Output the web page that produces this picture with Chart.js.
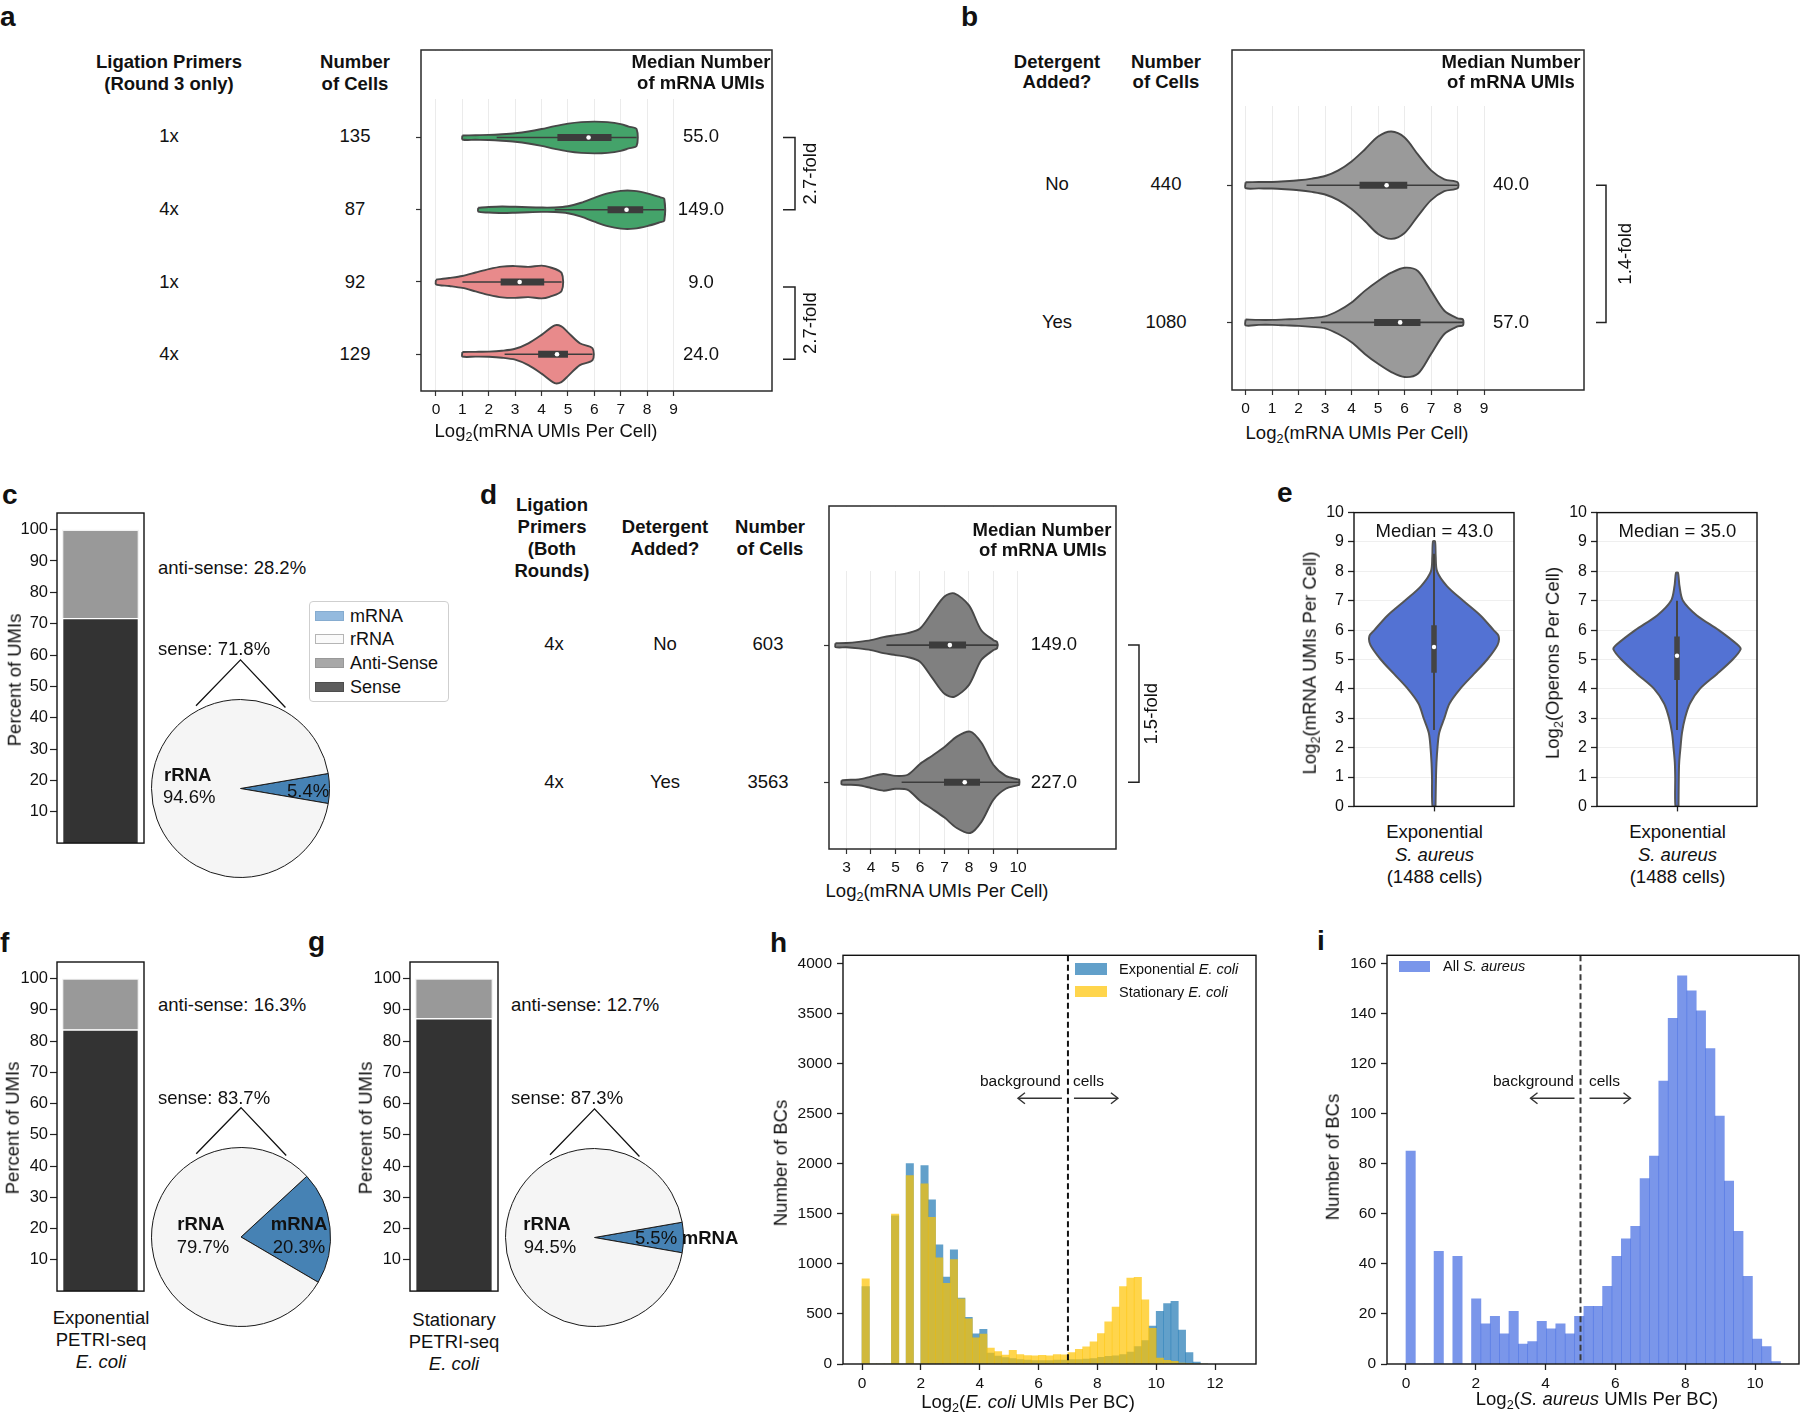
<!DOCTYPE html>
<html><head><meta charset="utf-8">
<script src="https://cdn.jsdelivr.net/npm/chart.js@4.4.1/dist/chart.umd.min.js"></script>
<style>
html,body{margin:0;padding:0;background:#fff;}
#page{position:relative;width:1800px;height:1419px;overflow:hidden;background:#fff;font-family:'Liberation Sans',Arial,Helvetica,sans-serif;color:#111;}
.t{position:absolute;white-space:nowrap;line-height:1;}
.c{position:absolute;}
.t sub{font-size:0.68em;vertical-align:-0.28em;line-height:0;}
.sw{position:absolute;box-sizing:border-box;}
</style></head><body><div id="page"></div>
<script>
// ================= DATA =================
// Panel a : ligation primers (round 3 only)
const aPrimers = ['1x', '4x', '1x', '4x'];
const aCells = [135, 87, 92, 129];
const aMedianUMIs = [55.0, 149.0, 9.0, 24.0];
const aTicks = [0, 1, 2, 3, 4, 5, 6, 7, 8, 9];
const aViolinX = [
  [1.0, 1.5, 2.0, 2.5, 3.0, 3.5, 4.0, 4.5, 5.0, 5.5, 6.0, 6.5, 7.0, 7.3, 7.6],
  [1.6, 2.0, 2.5, 3.0, 3.5, 4.0, 4.5, 5.0, 5.5, 6.0, 6.5, 7.0, 7.5, 8.0, 8.5, 8.65],
  [0, 0.5, 1, 1.5, 2, 2.5, 3, 3.5, 4, 4.3, 4.76],
  [1.0, 1.5, 2.0, 2.5, 3.0, 3.5, 4.0, 4.5, 4.75, 5.0, 5.45, 5.93]
];
const aViolinW = [
  [2, 2.3, 2.6, 3.3, 4.3, 6, 8.5, 11.5, 14, 15.5, 16, 15.5, 13.5, 11, 8.5],
  [2, 2.8, 3.3, 3, 2.5, 2.2, 2.3, 3.5, 7, 12, 16.5, 19, 19, 16.5, 12.5, 11],
  [2.3, 4, 6, 9.5, 13, 15.5, 16, 15.2, 16.5, 15, 9],
  [2.3, 2.4, 2.6, 3.5, 5.5, 11, 19.5, 29, 28, 22, 11, 6]
];
const aQ1 = [4.6, 6.5, 2.45, 3.87];
const aQ3 = [6.65, 7.85, 4.1, 5.0];
const aWhiskLo = [2.3, 4.5, 1.0, 2.6];
const aWhiskHi = [7.6, 8.65, 4.76, 5.93];
const aFoldPairs = [[0, 1], [2, 3]];

// Panel b : detergent
const bDetergent = ['No', 'Yes'];
const bCells = [440, 1080];
const bMedianUMIs = [40.0, 57.0];
const bTicks = [0, 1, 2, 3, 4, 5, 6, 7, 8, 9];
const bViolinX = [
  [0, 0.5, 1, 1.5, 2, 2.5, 3, 3.5, 4, 4.5, 5, 5.5, 6, 6.5, 7, 7.5, 8.0],
  [0, 0.5, 1, 1.5, 2, 2.5, 3, 3.5, 4, 4.5, 5, 5.5, 6, 6.5, 7, 7.5, 8, 8.2]
];
const bViolinW = [
  [3, 3.2, 3.3, 4, 5, 6.7, 9.3, 15, 24, 36, 49, 54, 48, 31, 15, 6, 3],
  [3, 2.5, 2.5, 3, 3.5, 4.5, 6, 11.7, 20, 31.7, 41.7, 50, 55, 51.7, 31.7, 11.7, 4, 3]
];
const bQ1 = [4.3, 4.85];
const bQ3 = [6.1, 6.6];
const bWhiskLo = [2.3, 2.84];
const bWhiskHi = [8.0, 8.2];

// Panel d : both rounds
const dPrimers = ['4x', '4x'];
const dDetergent = ['No', 'Yes'];
const dCells = [603, 3563];
const dMedianUMIs = [149.0, 227.0];
const dTicks = [3, 4, 5, 6, 7, 8, 9, 10];
const dViolinX = [
  [2.55, 3, 3.5, 4, 4.5, 5, 5.5, 6, 6.5, 7, 7.4, 8, 8.5, 9, 9.15],
  [2.8, 3, 3.5, 4, 4.5, 5, 5.5, 6, 6.5, 7, 7.5, 8.05, 8.5, 9, 9.5, 10, 10.05]
];
const dViolinW = [
  [2, 2.2, 3.3, 5, 8, 10, 12, 16.7, 33, 49, 52, 40, 15, 5, 3],
  [2, 2.4, 2.9, 5.7, 8.4, 6.5, 7.6, 18.5, 26.8, 35.5, 46, 51, 40, 17.4, 6.5, 2.9, 2.5]
];
const dQ1 = [6.37, 6.98];
const dQ3 = [7.88, 8.45];
const dWhiskLo = [4.63, 5.25];
const dWhiskHi = [9.15, 10.05];

// Panels c, f, g : sense / anti-sense bars and mRNA / rRNA pies
const barSense = [71.8, 83.7, 87.3];
const barAnti = [28.2, 16.3, 12.7];
const pieMRNA = [5.4, 20.3, 5.5];
const pieRRNA = [94.6, 79.7, 94.5];
const pctTicks = [10, 20, 30, 40, 50, 60, 70, 80, 90, 100];
const legendC = ['mRNA', 'rRNA', 'Anti-Sense', 'Sense'];

// Panel e : S. aureus violins
const eMedians = [43.0, 35.0];
const eCells = 1488;
const eTicks = [0, 1, 2, 3, 4, 5, 6, 7, 8, 9, 10];
const eViolinY = [
  [0, 1, 1.5, 2, 2.5, 3, 3.5, 4, 4.5, 5, 5.5, 5.8, 6, 6.5, 7, 7.5, 8, 8.5, 9.02],
  [0, 1, 1.5, 2, 2.5, 3, 3.5, 4, 4.5, 5, 5.35, 5.5, 6, 6.5, 7, 7.5, 7.95]
];
const eViolinW = [
  [1.5, 2, 2.5, 3.5, 5.2, 10.4, 15.6, 26.3, 40, 53.6, 64, 65, 60, 46.7, 29.4, 13, 3.1, 1.7, 1],
  [1.5, 1.8, 2.2, 3.5, 5, 8, 13, 23, 40, 56, 64, 61, 42, 20, 6, 2.5, 1]
];
const eQ1 = [4.55, 4.30];
const eQ3 = [6.17, 5.78];
const eWhiskLo = [2.6, 2.6];
const eWhiskHi = [8.6, 7.0];

// Panel h : E. coli histogram (bin width 0.25)
const hBinCenters = [0.125, 0.375, 0.625, 0.875, 1.125, 1.375, 1.625, 1.875, 2.125, 2.375, 2.625, 2.875,
  3.125, 3.375, 3.625, 3.875, 4.125, 4.375, 4.625, 4.875, 5.125, 5.375, 5.625, 5.875, 6.125, 6.375,
  6.625, 6.875, 7.125, 7.375, 7.625, 7.875, 8.125, 8.375, 8.625, 8.875, 9.125, 9.375, 9.625, 9.875,
  10.125, 10.375, 10.625, 10.875, 11.125, 11.375, 11.625];
const hExponential = [773, 0, 0, 0, 1480, 0, 2000, 0, 1980, 1638, 1190, 867, 1140, 659, 466, 302, 346,
  108, 80, 65, 55, 45, 40, 35, 35, 35, 38, 40, 43, 45, 50, 55, 66, 76, 82, 95, 118, 175, 235, 378, 526,
  602, 625, 339, 115, 20, 0];
const hStationary = [849, 0, 0, 0, 1497, 0, 1880, 0, 1798, 1463, 1061, 805, 1042, 650, 450, 262, 298,
  158, 123, 90, 137, 94, 85, 82, 87, 81, 93, 92, 113, 146, 172, 221, 304, 421, 569, 773, 858, 865, 641,
  355, 60, 36, 26, 10, 3, 0, 0];
const hXTicks = [0, 2, 4, 6, 8, 10, 12];
const hYTicks = [0, 500, 1000, 1500, 2000, 2500, 3000, 3500, 4000];
const hCutoff = 7;

// Panel i : S. aureus histogram (40 bins)
const iBinCenters = [0.1341, 0.4024, 0.6706, 0.9389, 1.2071, 1.4754, 1.7436, 2.0119, 2.2801, 2.5484,
  2.8166, 3.0849, 3.3531, 3.6214, 3.8896, 4.1579, 4.4261, 4.6944, 4.9626, 5.2309, 5.4991, 5.7674,
  6.0356, 6.3039, 6.5721, 6.8404, 7.1086, 7.3769, 7.6451, 7.9134, 8.1816, 8.4499, 8.7181, 8.9864,
  9.2546, 9.5229, 9.7911, 10.0594, 10.3276, 10.5959];
const iCounts = [85, 0, 0, 45, 0, 43, 0, 26, 16, 19, 12, 21, 8, 9, 17, 14, 16, 12, 19, 23, 23, 31, 43,
  50, 55, 74, 83, 113, 138, 155, 149, 141, 126, 99, 73, 53, 35, 10, 7, 1];
const iXTicks = [0, 2, 4, 6, 8, 10];
const iYTicks = [0, 20, 40, 60, 80, 100, 120, 140, 160];
const iCutoff = 5;

// ================= HELPERS =================
const page = document.getElementById('page');
const FONT = "'Liberation Sans', Arial, Helvetica, sans-serif";
Chart.defaults.font.family = FONT;
Chart.defaults.color = '#111';

function T(x, y, html, o) {
  o = o || {};
  const s = o.s || 18.5;
  const d = document.createElement('div');
  d.className = 't';
  d.style.fontSize = s + 'px';
  if (o.b) d.style.fontWeight = 'bold';
  if (o.i) d.style.fontStyle = 'italic';
  d.innerHTML = html;
  d.style.left = x + 'px';
  if (o.rot) {
    d.style.top = y + 'px';
    d.style.transform = 'translate(-50%,-50%) rotate(-90deg)';
  } else {
    d.style.top = (y - 0.49 * s) + 'px';
    const tx = o.a === 'l' ? '0' : (o.a === 'r' ? '-100%' : '-50%');
    d.style.transform = 'translateX(' + tx + ')';
  }
  page.appendChild(d);
  return d;
}
function swatch(x, y, w, h, fill, border) {
  const d = document.createElement('div');
  d.className = 'sw';
  d.style.left = x + 'px'; d.style.top = y + 'px';
  d.style.width = w + 'px'; d.style.height = h + 'px';
  d.style.background = fill;
  if (border) d.style.border = '1px solid ' + border;
  page.appendChild(d);
}
function canvasBox(left, top, W, H) {
  const d = document.createElement('div');
  d.className = 'c';
  d.style.left = left + 'px'; d.style.top = top + 'px';
  d.style.width = W + 'px'; d.style.height = H + 'px';
  const cv = document.createElement('canvas');
  cv.width = W; cv.height = H;
  cv.style.width = W + 'px'; cv.style.height = H + 'px';
  d.appendChild(cv);
  page.appendChild(d);
  return cv;
}
// box = [x0,y0,x1,y1] plot area in page px ; pad = [left,right,top,bottom]
function mkChart(box, pad, cfg) {
  const W = box[2] - box[0] + pad[0] + pad[1];
  const H = box[3] - box[1] + pad[2] + pad[3];
  const cv = canvasBox(box[0] - pad[0], box[1] - pad[2], W, H);
  const o = cfg.options = cfg.options || {};
  o.responsive = false; o.animation = false; o.events = []; o.devicePixelRatio = 1;
  o.layout = { padding: { left: 0, right: pad[1], top: pad[2], bottom: 0 } };
  o.plugins = Object.assign({ legend: { display: false }, tooltip: { enabled: false } }, o.plugins || {});
  o.scales.x.afterFit = s => { s.height = pad[3]; };
  o.scales.y.afterFit = s => { s.width = pad[0]; };
  return new Chart(cv, cfg);
}
const tickList = arr => (s => { s.ticks = arr.map(v => ({ value: v })); });

const framePlugin = (color, lw) => ({ id: 'frame', afterDraw(ch) {
  const a = ch.chartArea, c = ch.ctx;
  c.save(); c.strokeStyle = color; c.lineWidth = lw;
  c.strokeRect(a.left, a.top, a.right - a.left, a.bottom - a.top); c.restore();
} });
const maskPlugin = h => ({ id: 'mask', beforeDatasetsDraw(ch) {
  const a = ch.chartArea, c = ch.ctx;
  c.save(); c.fillStyle = '#fff'; c.fillRect(a.left + 1, a.top + 1, a.right - a.left - 2, h); c.restore();
} });
// pairs: [rowA,rowB,pixelShift,label]
const bracketPlugin = (pairs, dxLine, arm, dxText) => ({ id: 'bracket', afterDraw(ch) {
  const ys = ch.scales.y, a = ch.chartArea, c = ch.ctx;
  c.save(); c.strokeStyle = '#222'; c.lineWidth = 1.5;
  pairs.forEach(p => {
    const y1 = ys.getPixelForValue(p[0]) + p[2], y2 = ys.getPixelForValue(p[1]) + p[2];
    const x = a.right + dxLine;
    c.beginPath(); c.moveTo(x - arm, y1); c.lineTo(x, y1); c.lineTo(x, y2); c.lineTo(x - arm, y2); c.stroke();
    c.save(); c.translate(x + dxText, (y1 + y2) / 2); c.rotate(-Math.PI / 2);
    c.fillStyle = '#111'; c.font = '18.5px ' + FONT; c.textAlign = 'center'; c.textBaseline = 'middle';
    c.fillText(p[3], 0, 0); c.restore();
  });
  c.restore();
} });
function arrow(c, x1, y, x2) {
  c.beginPath(); c.moveTo(x1, y); c.lineTo(x2, y); c.stroke();
  const d = Math.sign(x2 - x1);
  c.beginPath(); c.moveTo(x2 - d * 7, y - 5.5); c.lineTo(x2, y); c.lineTo(x2 - d * 7, y + 5.5); c.stroke();
}
const cutoffPlugin = (xv, color, arrowDy, g1, g2) => ({ id: 'cutoff', afterDatasetsDraw(ch) {
  const xs = ch.scales.x, a = ch.chartArea, c = ch.ctx;
  const px = xs.getPixelForValue(xv);
  c.save(); c.strokeStyle = color; c.lineWidth = 2; c.setLineDash([6, 3.5]);
  c.beginPath(); c.moveTo(px, a.top); c.lineTo(px, a.bottom); c.stroke();
  c.setLineDash([]); c.strokeStyle = '#333'; c.lineWidth = 1.4;
  const y = a.top + arrowDy;
  arrow(c, px - g1, y, px - 50);
  arrow(c, px + g2, y, px + 50);
  c.restore();
} });
const vLinesPlugin = { id: 'vlines', afterDraw(ch) {
  const arc = ch.getDatasetMeta(0).data[0];
  const cx = arc.x, cy = arc.y, r = arc.outerRadius, c = ch.ctx;
  c.save(); c.strokeStyle = '#111'; c.lineWidth = 1.3;
  c.beginPath(); c.moveTo(cx - 0.5 * r, cy - 0.93 * r); c.lineTo(cx, cy - 1.445 * r);
  c.lineTo(cx + 0.505 * r, cy - 0.91 * r); c.stroke(); c.restore();
} };

// ---- horizontal violin chart (panels a, b, d) ----
function hViolinChart(p) {
  const ds = [];
  p.X.forEach((xs, r) => {
    const ws = p.W[r];
    const up = xs.map((x, i) => ({ x: x, y: r - ws[i] * p.wScale }));
    const dn = xs.map((x, i) => ({ x: x, y: r + ws[i] * p.wScale })).reverse();
    const pts = up.concat(dn, [up[0]]);
    ds.push({ data: pts, fill: 'shape', backgroundColor: p.fills[r], borderColor: '#474747', borderWidth: 1.9,
      pointRadius: 0, tension: 0.3, order: 4 });
    ds.push({ data: [{ x: p.lo[r], y: r }, { x: p.hi[r], y: r }], borderColor: '#3c3c3c', borderWidth: 1.6,
      pointRadius: 0, fill: false, order: 3 });
    ds.push({ data: [{ x: p.q1[r], y: r }, { x: p.q3[r], y: r }], borderColor: '#3c3c3c', borderWidth: 7,
      borderCapStyle: 'butt', pointRadius: 0, fill: false, order: 2 });
    ds.push({ data: [{ x: Math.log2(p.med[r]), y: r }], showLine: false, pointRadius: 2.3,
      pointBackgroundColor: '#fff', pointBorderWidth: 0, order: 1 });
  });
  const rows = p.X.map((_, i) => i);
  return mkChart(p.box, p.pad, {
    type: 'line',
    data: { datasets: ds },
    options: {
      scales: {
        x: { type: 'linear', min: p.xr[0], max: p.xr[1], afterBuildTicks: tickList(p.ticks),
          ticks: { font: { size: 15.5 }, padding: 4, callback: v => String(v), maxRotation: 0, autoSkip: false, color: '#111' },
          grid: { color: '#ebebeb', lineWidth: 1, tickColor: '#333', tickWidth: 1.2, tickLength: 5 },
          border: { display: false } },
        y: { type: 'linear', reverse: true, min: p.yr[0], max: p.yr[1], afterBuildTicks: tickList(rows),
          ticks: { display: false },
          grid: { drawOnChartArea: false, tickColor: '#333', tickWidth: 1.2, tickLength: 5 },
          border: { display: false } }
      }
    },
    plugins: [maskPlugin(p.mask), framePlugin('#2a2a2a', 1.5), bracketPlugin(p.brackets, p.bx[0], p.bx[1], p.bx[2])]
  });
}
function foldLabel(m, i, j) { return (m[j] > m[i] ? m[j] / m[i] : m[i] / m[j]).toFixed(1) + '-fold'; }

// ================= PANEL LETTERS =================
[['a', 0, 27], ['b', 961, 27], ['c', 2, 505], ['d', 480, 505], ['e', 1277, 503],
 ['f', 0, 953], ['g', 308, 952], ['h', 770, 953], ['i', 1317, 951]].forEach(l => {
  const d = document.createElement('div'); d.className = 't';
  d.style.fontSize = '28px'; d.style.fontWeight = 'bold';
  d.style.left = l[1] + 'px'; d.style.top = (l[2] - 0.85 * 28) + 'px';
  d.textContent = l[0]; page.appendChild(d);
});

// ================= PANEL a =================
hViolinChart({
  box: [421, 48, 772, 391], pad: [8, 64, 2, 30], xr: [-0.568, 12.73], yr: [-1.211, 3.509],
  ticks: aTicks, X: aViolinX, W: aViolinW, wScale: 1 / 72.7,
  q1: aQ1, q3: aQ3, med: aMedianUMIs, lo: aWhiskLo, hi: aWhiskHi,
  fills: ['#44a36a', '#44a36a', '#e88a8b', '#e88a8b'], mask: 48,
  brackets: aFoldPairs.map((p, k) => [p[0], p[1], k === 0 ? 0 : 5, foldLabel(aMedianUMIs, p[0], p[1])]),
  bx: [23, 12, 16]
});
T(169, 62, 'Ligation Primers', { b: 1 });
T(169, 84, '(Round 3 only)', { b: 1 });
T(355, 62, 'Number', { b: 1 });
T(355, 84, 'of Cells', { b: 1 });
T(701, 62, 'Median Number', { b: 1 });
T(701, 83, 'of mRNA UMIs', { b: 1 });
[136, 209, 282, 354].forEach((y, i) => {
  T(169, y, aPrimers[i]);
  T(355, y, String(aCells[i]));
  T(701, y, aMedianUMIs[i].toFixed(1));
});
T(546, 431, 'Log<sub>2</sub>(mRNA UMIs Per Cell)', { s: 18.5 });

// ================= PANEL b =================
hViolinChart({
  box: [1232, 48, 1584, 390], pad: [8, 64, 2, 30], xr: [-0.513, 12.77], yr: [-0.986, 1.493],
  ticks: bTicks, X: bViolinX, W: bViolinW, wScale: 1 / 138,
  q1: bQ1, q3: bQ3, med: bMedianUMIs, lo: bWhiskLo, hi: bWhiskHi,
  fills: ['#9a9a9a', '#9a9a9a'], mask: 55,
  brackets: [[0, 1, 0, foldLabel(bMedianUMIs, 0, 1)]],
  bx: [22, 10, 20]
});
T(1057, 62, 'Detergent', { b: 1 });
T(1057, 82, 'Added?', { b: 1 });
T(1166, 62, 'Number', { b: 1 });
T(1166, 82, 'of Cells', { b: 1 });
T(1511, 62, 'Median Number', { b: 1 });
T(1511, 82, 'of mRNA UMIs', { b: 1 });
[184, 322].forEach((y, i) => {
  T(1057, y, bDetergent[i]);
  T(1166, y, String(bCells[i]));
  T(1511, y, bMedianUMIs[i].toFixed(1));
});
T(1357, 433, 'Log<sub>2</sub>(mRNA UMIs Per Cell)', { s: 18.5 });

// ================= PANEL d =================
hViolinChart({
  box: [829, 504, 1116, 849], pad: [8, 56, 2, 30], xr: [2.286, 14.0], yr: [-1.014, 1.486],
  ticks: dTicks, X: dViolinX, W: dViolinW, wScale: 1 / 138,
  q1: dQ1, q3: dQ3, med: dMedianUMIs, lo: dWhiskLo, hi: dWhiskHi,
  fills: ['#808080', '#808080'], mask: 64,
  brackets: [[0, 1, 0, foldLabel(dMedianUMIs, 0, 1)]],
  bx: [23, 11, 13]
});
T(552, 505, 'Ligation', { b: 1 });
T(552, 527, 'Primers', { b: 1 });
T(552, 549, '(Both', { b: 1 });
T(552, 571, 'Rounds)', { b: 1 });
T(665, 527, 'Detergent', { b: 1 });
T(665, 549, 'Added?', { b: 1 });
T(770, 527, 'Number', { b: 1 });
T(770, 549, 'of Cells', { b: 1 });
T(1042, 530, 'Median Number', { b: 1 });
T(1043, 550, 'of mRNA UMIs', { b: 1 });
[644, 782].forEach((y, i) => {
  T(554, y, dPrimers[i]);
  T(665, y, dDetergent[i]);
  T(768, y, String(dCells[i]));
  T(1054, y, dMedianUMIs[i].toFixed(1));
});
T(937, 891, 'Log<sub>2</sub>(mRNA UMIs Per Cell)', { s: 18.5 });

// ================= PANELS c, f, g (bars + pies) =================
function barChart(k, box) {
  return mkChart(box, [box[0], 3, 20, 3], {
    type: 'bar',
    data: { labels: [''], datasets: [
      { label: 'Sense', data: [barSense[k]], backgroundColor: '#333333', borderColor: '#ffffff', borderWidth: 1.3,
        borderSkipped: 'start', barPercentage: 0.885, categoryPercentage: 1 },
      { label: 'Anti-Sense', data: [barAnti[k]], backgroundColor: '#999999', borderColor: '#f2f2f2', borderWidth: 1.3,
        borderSkipped: 'start', barPercentage: 0.885, categoryPercentage: 1 }
    ] },
    options: {
      scales: {
        x: { stacked: true, ticks: { display: false }, grid: { display: false }, border: { display: false } },
        y: { type: 'linear', stacked: true, min: 0, max: 105.3, afterBuildTicks: tickList(pctTicks),
          ticks: { font: { size: 16.5 }, padding: 2, color: '#111', callback: v => String(v) },
          grid: { drawOnChartArea: false, tickColor: '#222', tickWidth: 1.2, tickLength: 7 },
          border: { display: false } }
      }
    },
    plugins: [framePlugin('#111', 1.4)]
  });
}
function pieChart(k, cx, cy, r, rot) {
  const S = 2 * r + 1, padTop = 45;
  const cv = canvasBox(Math.round(cx - S / 2), Math.round(cy - S / 2 - padTop), S, S + padTop);
  return new Chart(cv, {
    type: 'pie',
    data: { labels: ['mRNA', 'rRNA'], datasets: [{ data: [pieMRNA[k], pieRRNA[k]],
      backgroundColor: ['#4682b4', '#f5f5f5'], borderColor: '#1a1a1a', borderWidth: 1, hoverOffset: 0 }] },
    options: { responsive: false, animation: false, events: [], devicePixelRatio: 1, rotation: rot,
      layout: { padding: { top: padTop } },
      plugins: { legend: { display: false }, tooltip: { enabled: false } } },
    plugins: [vLinesPlugin]
  });
}
// c
barChart(0, [57, 513, 144, 852]);
pieChart(0, 240, 788, 89, 90 - pieMRNA[0] * 1.8);
T(15, 680, 'Percent of UMIs', { rot: 1, s: 18.5 });
T(158, 568, 'anti-sense: ' + barAnti[0].toFixed(1) + '%', { a: 'l' });
T(158, 649, 'sense: ' + barSense[0].toFixed(1) + '%', { a: 'l' });
T(164, 775, 'rRNA', { a: 'l', b: 1 });
T(163, 797, pieRRNA[0].toFixed(1) + '%', { a: 'l' });
T(287, 791, pieMRNA[0].toFixed(1) + '%', { a: 'l' });
(function legend() {
  const d = document.createElement('div');
  d.style.cssText = 'position:absolute;left:309px;top:601px;width:140px;height:101px;border:1px solid #cfcfcf;border-radius:4px;box-sizing:border-box;background:#fff;';
  page.appendChild(d);
  const fills = [['#94bade', '#86acd0'], ['#fafafa', '#b5b5b5'], ['#a8a8a8', '#989898'], ['#5d5d5d', '#4d4d4d']];
  [616, 639, 663, 687].forEach((y, i) => {
    swatch(315, y - 5, 29, 10, fills[i][0], fills[i][1]);
    T(350, y, legendC[i], { a: 'l', s: 18 });
  });
})();
// f
barChart(1, [57, 962, 144, 1300]);
pieChart(1, 241, 1237, 89.5, 47.3);
T(13, 1128, 'Percent of UMIs', { rot: 1, s: 18.5 });
T(158, 1005, 'anti-sense: ' + barAnti[1].toFixed(1) + '%', { a: 'l' });
T(158, 1098, 'sense: ' + barSense[1].toFixed(1) + '%', { a: 'l' });
T(201, 1224, 'rRNA', { b: 1 });
T(203, 1247, pieRRNA[1].toFixed(1) + '%');
T(299, 1224, 'mRNA', { b: 1 });
T(299, 1247, pieMRNA[1].toFixed(1) + '%');
T(101, 1318, 'Exponential');
T(101, 1340, 'PETRI-seq');
T(101, 1362, 'E. coli', { i: 1 });
// g
barChart(2, [410, 962, 498, 1300]);
pieChart(2, 594, 1237, 89, 90 - pieMRNA[2] * 1.8);
T(366, 1128, 'Percent of UMIs', { rot: 1, s: 18.5 });
T(511, 1005, 'anti-sense: ' + barAnti[2].toFixed(1) + '%', { a: 'l' });
T(511, 1098, 'sense: ' + barSense[2].toFixed(1) + '%', { a: 'l' });
T(547, 1224, 'rRNA', { b: 1 });
T(550, 1247, pieRRNA[2].toFixed(1) + '%');
T(656, 1238, pieMRNA[2].toFixed(1) + '%');
T(710, 1238, 'mRNA', { b: 1 });
T(454, 1320, 'Stationary');
T(454, 1342, 'PETRI-seq');
T(454, 1364, 'E. coli', { i: 1 });

// ================= PANEL e =================
function vViolinChart(k, box, title) {
  const ys = eViolinY[k], ws = eViolinW[k], sc = 1 / 161;
  const right = ys.map((y, i) => ({ x: ws[i] * sc, y: y }));
  const left = ys.map((y, i) => ({ x: -ws[i] * sc, y: y })).reverse();
  const pts = right.concat(left, [right[0]]);
  const ds = [
    { data: pts, fill: 'shape', backgroundColor: '#5372d3', borderColor: '#555555', borderWidth: 2, pointRadius: 0, tension: 0.3, order: 4 },
    { data: [{ x: 0, y: eWhiskLo[k] }, { x: 0, y: eWhiskHi[k] }], borderColor: '#444', borderWidth: 2, pointRadius: 0, fill: false, order: 3 },
    { data: [{ x: 0, y: eQ1[k] }, { x: 0, y: eQ3[k] }], borderColor: '#444', borderWidth: 5.5, borderCapStyle: 'butt', pointRadius: 0, fill: false, order: 2 },
    { data: [{ x: 0, y: Math.log2(eMedians[k]) }], showLine: false, pointRadius: 2.2, pointBackgroundColor: '#fff', pointBorderWidth: 0, order: 1 }
  ];
  mkChart(box, [40, 3, 12, 12], {
    type: 'line', data: { datasets: ds },
    options: { scales: {
      x: { type: 'linear', min: -0.5, max: 0.5, afterBuildTicks: tickList([0]), ticks: { display: false },
        grid: { drawOnChartArea: false, tickColor: '#222', tickWidth: 1.3, tickLength: 5 }, border: { display: false } },
      y: { type: 'linear', min: 0, max: 10, afterBuildTicks: tickList(eTicks),
        ticks: { font: { size: 16 }, padding: 4, color: '#111', callback: v => String(v) },
        grid: { color: '#efefef', lineWidth: 1, tickColor: '#222', tickWidth: 1.3, tickLength: 6 }, border: { display: false } }
    } },
    plugins: [framePlugin('#111', 1.4)]
  });
  const cx = (box[0] + box[2]) / 2;
  T(cx, 531, 'Median = ' + eMedians[k].toFixed(1));
  T(cx, 832, 'Exponential');
  T(cx, 855, 'S. aureus', { i: 1 });
  T(cx, 877, '(' + eCells + ' cells)');
  T(box[0] - 44, 663, title, { rot: 1, s: 18.5 });
}
vViolinChart(0, [1354, 511, 1515, 808], 'Log<sub>2</sub>(mRNA UMIs Per Cell)');
vViolinChart(1, [1597, 511, 1758, 808], 'Log<sub>2</sub>(Operons Per Cell)');

// ================= PANEL h =================
function histAxes(xr, yr, xt, yt) {
  return {
    x: { type: 'linear', offset: false, min: xr[0], max: xr[1], afterBuildTicks: tickList(xt),
      ticks: { font: { size: 15.5 }, padding: 4, color: '#111', callback: v => String(v), maxRotation: 0, autoSkip: false },
      grid: { drawOnChartArea: false, offset: false, tickColor: '#222', tickWidth: 1.3, tickLength: 6 }, border: { display: false } },
    y: { type: 'linear', min: yr[0], max: yr[1], afterBuildTicks: tickList(yt),
      ticks: { font: { size: 15.5 }, padding: 5, color: '#111', callback: v => String(v) },
      grid: { drawOnChartArea: false, tickColor: '#222', tickWidth: 1.3, tickLength: 6 }, border: { display: false } }
  };
}
const hCol = { exp: 'rgba(31,119,180,0.7)', sta: 'rgba(255,195,0,0.7)' };
mkChart([843, 951, 1256, 1364], [70, 3, 10, 30], {
  type: 'bar',
  data: { datasets: [
    { label: 'Stationary E. coli', data: hBinCenters.map((x, i) => ({ x: x, y: hStationary[i] })), backgroundColor: hCol.sta,
      grouped: false, barPercentage: 1, categoryPercentage: 1, borderWidth: 0, order: 1 },
    { label: 'Exponential E. coli', data: hBinCenters.map((x, i) => ({ x: x, y: hExponential[i] })), backgroundColor: hCol.exp,
      grouped: false, barPercentage: 1, categoryPercentage: 1, borderWidth: 0, order: 2 }
  ] },
  options: { scales: histAxes([-0.646, 13.392], [0, 4080], hXTicks, hYTicks) },
  plugins: [cutoffPlugin(hCutoff, '#111', 143, 6, 6), framePlugin('#111', 1.4)]
});
T(781, 1163, 'Number of BCs', { rot: 1, s: 18.5 });
T(1028, 1402, 'Log<sub>2</sub>(<i>E. coli</i> UMIs Per BC)', { s: 18.5 });
T(1061, 1081, 'background', { a: 'r', s: 15.5 });
T(1073, 1081, 'cells', { a: 'l', s: 15.5 });
swatch(1075, 963, 32, 12, hCol.exp);
swatch(1075, 986, 32, 11, hCol.sta);
T(1119, 969, 'Exponential <i>E. coli</i>', { a: 'l', s: 14.5 });
T(1119, 992, 'Stationary <i>E. coli</i>', { a: 'l', s: 14.5 });

// ================= PANEL i =================
const iCol = 'rgba(65,105,225,0.7)';
mkChart([1387, 951, 1799, 1364], [60, 1, 10, 30], {
  type: 'bar',
  data: { datasets: [
    { label: 'All S. aureus', data: iBinCenters.map((x, i) => ({ x: x, y: iCounts[i] })), backgroundColor: iCol,
      grouped: false, barPercentage: 1, categoryPercentage: 1, borderWidth: 0 }
  ] },
  options: { scales: histAxes([-0.544, 11.26], [0, 163.2], iXTicks, iYTicks) },
  plugins: [cutoffPlugin(iCutoff, '#3a3a3a', 143, 6, 9), framePlugin('#111', 1.4)]
});
T(1333, 1157, 'Number of BCs', { rot: 1, s: 18.5 });
T(1597, 1399, 'Log<sub>2</sub>(<i>S. aureus</i> UMIs Per BC)', { s: 18.5 });
T(1574, 1081, 'background', { a: 'r', s: 15.5 });
T(1589, 1081, 'cells', { a: 'l', s: 15.5 });
swatch(1399, 961, 31, 11, iCol);
T(1443, 966, 'All <i>S. aureus</i>', { a: 'l', s: 14.5 });
</script></body></html>
